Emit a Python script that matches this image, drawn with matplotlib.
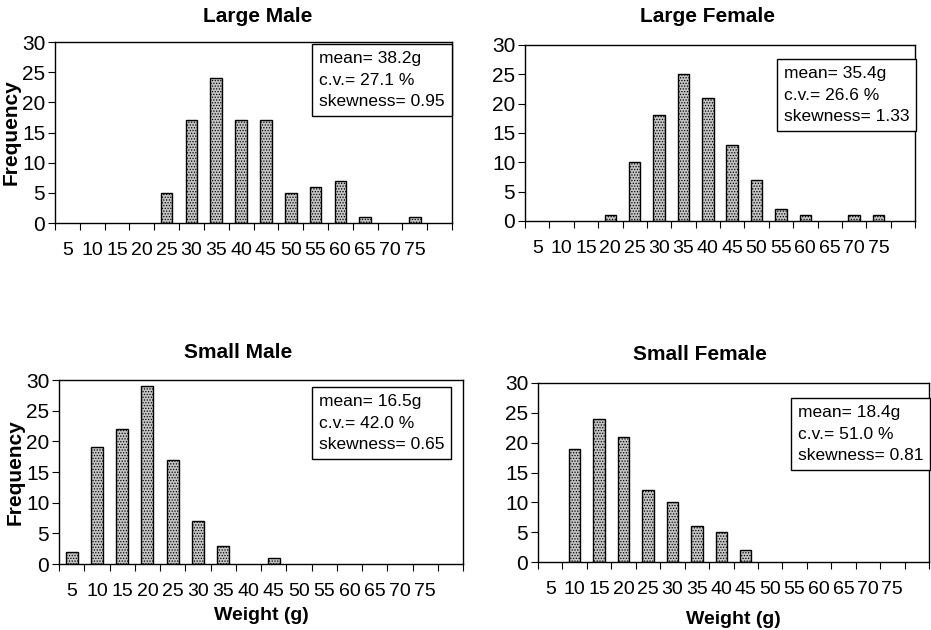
import matplotlib.pyplot as plt
import numpy as np

plt.rcParams['font.family'] = ['Liberation Sans', 'DejaVu Sans']
plt.rcParams['hatch.linewidth'] = 0.6

# Weight classes (g); last slot is an empty category
categorias = [5, 10, 15, 20, 25, 30, 35, 40, 45, 50, 55, 60, 65, 70, 75, 80]
etiquetas = [str(c) for c in categorias[:-1]] + [""]

large_male = [0, 0, 0, 0, 5, 17, 24, 17, 17, 5, 6, 7, 1, 0, 1, 0]
large_female = [0, 0, 0, 1, 10, 18, 25, 21, 13, 7, 2, 1, 0, 1, 1, 0]
small_male = [2, 19, 22, 29, 17, 7, 3, 0, 1, 0, 0, 0, 0, 0, 0, 0]
small_female = [0, 19, 24, 21, 12, 10, 6, 5, 2, 0, 0, 0, 0, 0, 0, 0]

titulos = ["Large Male", "Large Female", "Small Male", "Small Female"]
estadisticas = [
    "mean= 38.2g\nc.v.= 27.1 %\nskewness= 0.95",
    "mean= 35.4g\nc.v.= 26.6 %\nskewness= 1.33",
    "mean= 16.5g\nc.v.= 42.0 %\nskewness= 0.65",
    "mean= 18.4g\nc.v.= 51.0 %\nskewness= 0.81",
]
series = [large_male, large_female, small_male, small_female]

# axes rectangles and title / stats-box placement, in pixels
W, H = 931, 630
rects = [(55, 452, 42, 223), (525, 915, 45, 221), (59, 463, 380, 564), (538, 929, 383, 562)]
pos_titulo = [(258, 17), (707, 16), (238, 352), (700, 355)]
pos_caja = [(319, 51), (784, 66), (319, 394), (798, 405)]

fig = plt.figure(figsize=(W / 100, H / 100), dpi=100)

for i, (vals, titulo, stats) in enumerate(zip(series, titulos, estadisticas)):
    x0, x1, y0, y1 = rects[i]
    ax = fig.add_axes([x0 / W, 1 - y1 / H, (x1 - x0) / W, (y1 - y0) / H])
    x = np.arange(len(categorias))
    alto = np.array(vals, dtype=float)
    visibles = alto > 0
    ax.bar(x[visibles], alto[visibles], width=0.47, color="#c4c4c4",
           edgecolor="black", linewidth=1.0, hatch="......")

    ax.set_xlim(-0.5, len(categorias) - 0.5)
    ax.set_ylim(0, 30)
    ax.set_yticks(range(0, 31, 5))
    ax.set_xticks(x)
    ax.set_xticklabels(etiquetas, fontsize=14)
    ax.set_xticks(np.arange(-0.5, len(categorias), 1), minor=True)
    ax.tick_params(axis="x", which="major", length=0, pad=14)
    ax.tick_params(axis="x", which="minor", length=5, width=0.8, direction="out")
    ax.tick_params(axis="y", labelsize=15, length=5, width=0.8, pad=2)
    for s in ax.spines.values():
        s.set_linewidth(1.0)

    if i % 2 == 0:
        ax.set_ylabel("Frequency", fontsize=15, fontweight="bold", labelpad=1)
    if i >= 2:
        ax.set_xlabel("Weight (g)", fontsize=14, fontweight="bold",
                      labelpad=5 if i == 2 else 9)

    tx, ty = pos_titulo[i]
    fig.text(tx / W, 1 - ty / H, titulo, ha="center", va="center",
             fontsize=15, fontweight="bold")

    bx, by = pos_caja[i]
    fig.text(bx / W, 1 - by / H, stats, ha="left", va="top", fontsize=12.5,
             linespacing=1.55,
             bbox=dict(boxstyle="square,pad=0.4", facecolor="white",
                       edgecolor="black", linewidth=1.0))

plt.savefig("out.png", dpi=100)
